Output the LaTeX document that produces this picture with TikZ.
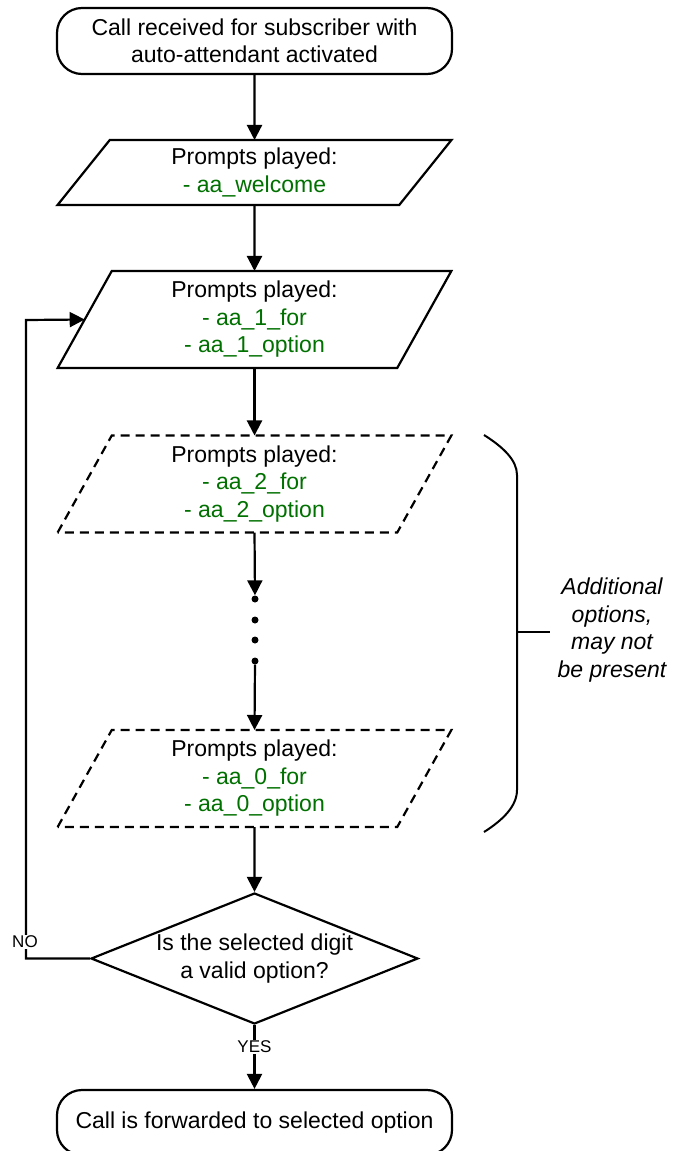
\documentclass[tikz,border=0pt]{standalone}
\usepackage{fontspec}
\setmainfont{Liberation Sans}
\usetikzlibrary{shapes.geometric,arrows.meta,calc}
\definecolor{pgreen}{RGB}{0,112,0}
\begin{document}
\begin{tikzpicture}[x=1pt,y=-1pt,
  every node/.style={font=\fontsize{23}{27.5}\selectfont},
  ln/.style={line width=2.2pt},
  arr/.style={ln,-{Triangle[length=15pt,width=15pt]}},
  term/.style={draw,ln,rounded corners=25pt,minimum width=395pt,minimum height=66pt,align=center,inner sep=0pt},
  io/.style={draw,ln,trapezium,trapezium stretches=true,minimum width=395pt,align=center,inner sep=0pt,outer sep=0pt},
  iofull/.style={io,minimum height=97pt,trapezium left angle=67.6,trapezium right angle=112.4},
  dsh/.style={dash pattern=on 9pt off 6pt},
  dot/.style={circle,fill,inner sep=0pt,minimum size=7pt},
  lbl/.style={font=\fontsize{17}{20}\selectfont,fill=white,inner sep=1pt},
  gr/.style={text=pgreen}]
\useasboundingbox (0,0) rectangle (674,1151);

\node[term] (start) at (254.5,41) {Call received for subscriber with\\auto-attendant activated};
\node[io,minimum height=65pt,trapezium left angle=58.4,trapezium right angle=121.6] (p1) at (254.5,172.5)
  {Prompts played:\\\textcolor{pgreen}{- aa\_welcome}};
\node[iofull] (p2) at (254.5,319.5)
  {Prompts played:\\\textcolor{pgreen}{- aa\_1\_for}\\\textcolor{pgreen}{- aa\_1\_option}};
\node[iofull,dsh] (p3) at (254.5,484)
  {Prompts played:\\\textcolor{pgreen}{- aa\_2\_for}\\\textcolor{pgreen}{- aa\_2\_option}};
\node[iofull,dsh] (p4) at (254.5,778.5)
  {Prompts played:\\\textcolor{pgreen}{- aa\_0\_for}\\\textcolor{pgreen}{- aa\_0\_option}};
\node[draw,ln,diamond,aspect=2.5,minimum width=327pt,minimum height=131pt,inner sep=0pt,align=center] (dec) at (254.5,958.5)
  {Is the selected digit\\a valid option?};
\node[term,minimum height=65pt] (end) at (254.5,1122.5) {Call is forwarded to selected option};

\node[dot] (d1) at (255,599) {};
\node[dot] (d2) at (255,620) {};
\node[dot] (d3) at (255,640) {};
\node[dot] (d4) at (255,661) {};

\draw[arr] (start) -- (p1);
\draw[arr] (p1) -- (p2);
\draw[arr] (p2.south) -- (p3.north);
\draw[arr] (p3.south) -- (d1);
\draw[arr] (d4) -- (p4.north);
\draw[arr] (p4.south) -- (dec.north);
\draw[arr] (dec.south) -- (end.north);

\coordinate (lp) at ($(p2.top left corner)!0.5!(p2.bottom left corner)$);
\coordinate (c1) at (26,958.5);
\coordinate (c2) at (26,320);
\draw[arr] (dec.west) -- (c1) -- (c2) -- (lp);

\node[lbl] (no) at (25,942) {NO};
\node[lbl] (yes) at (254.5,1047) {YES};

\coordinate (b1) at (484,435);
\coordinate (b2) at (517,475);
\coordinate (b3) at (517,790);
\coordinate (b4) at (484,832);
\coordinate (bm) at (517,632);
\coordinate (bt) at (550,632);
\draw[ln,line width=2pt] (b1) .. controls (503,447) and (517,460) .. (b2) -- (b3) .. controls (517,806) and (503,820) .. (b4);
\draw[ln,line width=2pt] (bm) -- (bt);
\node[align=center,font=\fontsize{23}{27.5}\selectfont\itshape] (note) at (612,630)
  {Additional\\options,\\may not\\be present};
\end{tikzpicture}
\end{document}
